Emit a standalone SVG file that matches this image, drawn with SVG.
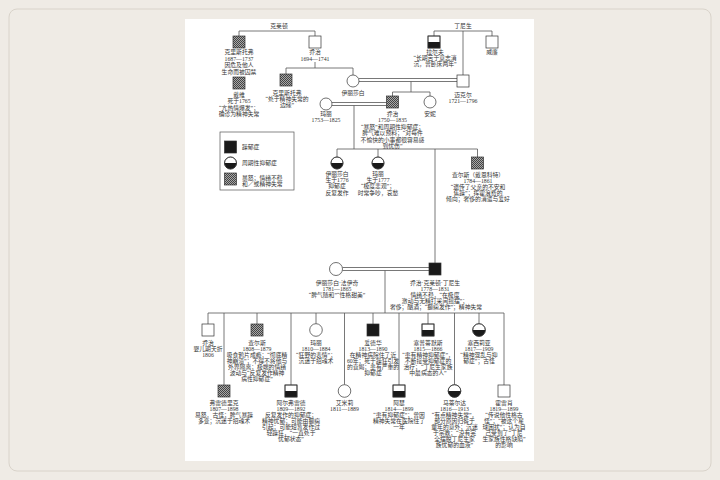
<svg xmlns="http://www.w3.org/2000/svg" width="720" height="480" viewBox="0 0 720 480">
<defs>
<pattern id="hatch" width="2" height="2" patternUnits="userSpaceOnUse">
<rect width="2" height="2" fill="#a8a8a8"/>
<rect width="1" height="1" fill="#444"/>
<rect x="1" y="1" width="1" height="1" fill="#444"/>
</pattern>
<style>
.t{font-family:"Liberation Serif","Noto Sans CJK SC",serif;font-size:5.8px;fill:#333;text-anchor:middle}
.tl{font-family:"Liberation Serif","Noto Sans CJK SC",serif;font-size:5.8px;fill:#333;text-anchor:start}
.ln{stroke:#555;stroke-width:0.8;fill:none}
.nd{stroke:#333;stroke-width:0.7;fill:#fff}
.blk{stroke:#333;stroke-width:0.7;fill:#1a1a1a}
.hat{stroke:#333;stroke-width:0.7;fill:url(#hatch)}
.half{fill:#1a1a1a;stroke:none}
</style>
</defs>
<rect x="0" y="0" width="720" height="480" fill="#efebe5"/>
<rect x="9" y="9" width="702" height="462" rx="8" fill="none" stroke="#d9d3ca" stroke-width="1"/>
<rect x="185" y="19" width="349" height="442" fill="#fff"/>

<g id="connectors">
<path class="ln" d="M239,36 V31 H315 V36"/>
<path class="ln" d="M315,62 V68 M286,74 V68 H353 V75"/>
<path class="ln" d="M434,36 V31 H492 V36 M463,31 V75"/>
<path class="ln" d="M359,78.5 H457 M359,81.5 H457"/>
<path class="ln" d="M411,81.5 V92 M392.5,96 V92 H430 V96"/>
<path class="ln" d="M332,102.5 H386.5 M332,105.5 H386.5"/>
<path class="ln" d="M354,105.5 V149 M337,157 V149 H477.5 V157 M378,149 V157 M435,149 V263"/>
<path class="ln" d="M342.5,267.5 H429 M342.5,270.5 H429"/>
<path class="ln" d="M385,270.5 V313 M208,324 V313 H504 V385"/>
<path class="ln" d="M224,313 V385 M257,313 V324 M291,313 V385 M316,313 V323.7 M344.5,313 V384.7 M373,313 V324 M399,313 V385 M428,313 V324 M454.5,313 V384.7 M479,313 V323.7"/>
</g>

<g id="legend">
<rect x="220" y="132" width="74" height="58" fill="#fff" stroke="#555" stroke-width="0.7"/>
<rect class="blk" x="224.5" y="141" width="12" height="12"/>
<text class="tl" x="242" y="149">躁郁症</text>
<circle class="nd" cx="230.5" cy="163" r="6"/>
<path class="half" d="M224.5,163 A6,6 0 0 0 236.5,163 Z"/>
<circle cx="230.5" cy="163" r="6" fill="none" stroke="#333" stroke-width="0.7"/>
<text class="tl" x="242" y="165">周期性抑郁症</text>
<rect class="hat" x="224.5" y="173" width="12" height="12"/>
<text class="tl" x="242" y="180">暴怒；情绪不稳</text>
<text class="tl" x="242" y="186">和／或精神失常</text>
</g>

<g id="christopher1687">
<rect class="hat" x="233" y="36" width="12" height="12"/>
<text class="t" x="239" y="54">克里斯托弗</text>
<text class="t" x="239" y="60.5">1687—1737</text>
<text class="t" x="239" y="67">因危及他人</text>
<text class="t" x="239" y="73.5">生命而被囚禁</text>
</g>
<text class="t" x="279" y="28">克莱顿</text>
<g id="george1694">
<rect class="nd" x="309" y="36" width="12" height="12"/>
<text class="t" x="315" y="54">乔治</text>
<text class="t" x="315" y="60.5">1694—1741</text>
</g>
<g id="david">
<rect class="hat" x="233" y="77" width="12" height="12"/>
<text class="t" x="239" y="97">戴维</text>
<text class="t" x="239" y="103">死于1765</text>
<text class="t" x="239" y="109.5">“亢热情爆发”；</text>
<text class="t" x="239" y="115.5">确诊为精神失常</text>
</g>
<g id="christopher2">
<rect class="hat" x="280" y="74" width="12" height="12"/>
<text class="t" x="287" y="94.5">克里斯托弗</text>
<text class="t" x="287" y="100.5">“处于精神失常的</text>
<text class="t" x="287" y="106.5">边缘”</text>
</g>
<g id="elizabeth">
<circle class="nd" cx="353" cy="81" r="6"/>
<text class="t" x="353" y="94.5">伊丽莎白</text>
</g>
<text class="t" x="463" y="28">丁尼生</text>
<g id="ralph">
<rect class="nd" x="428" y="36" width="12" height="12"/>
<rect class="half" x="428" y="42" width="12" height="6"/>
<rect x="428" y="36" width="12" height="12" fill="none" stroke="#333" stroke-width="0.7"/>
<text class="t" x="435" y="53.5">拉尔夫</text>
<text class="t" x="435" y="60">“长期苦于意志消</text>
<text class="t" x="435" y="66">沉，曾卧床两年”</text>
</g>
<g id="william">
<rect class="nd" x="486" y="36" width="12" height="12"/>
<text class="t" x="492" y="53.5">威廉</text>
</g>
<g id="michael">
<rect class="nd" x="457" y="75" width="12" height="12"/>
<text class="t" x="463" y="97">迈克尔</text>
<text class="t" x="463" y="103">1721—1796</text>
</g>
<g id="mary1753">
<circle class="nd" cx="326" cy="104" r="6"/>
<text class="t" x="326" y="116">玛丽</text>
<text class="t" x="326" y="122.4">1753—1825</text>
</g>
<g id="george1750">
<rect class="hat" x="386.5" y="96" width="12" height="12"/>
<text class="t" x="392.5" y="116">乔治</text>
<text class="t" x="392.5" y="122.4">1750—1835</text>
<text class="t" x="392.5" y="128.8">“暴怒”和周期性抑郁症；</text>
<text class="t" x="392.5" y="135.2">脾气难以预料；“对每件</text>
<text class="t" x="392.5" y="141.6">不愉快的小事都很容易感</text>
<text class="t" x="392.5" y="147.6">到忧伤”</text>
</g>
<g id="anne">
<circle class="nd" cx="430" cy="102" r="6"/>
<text class="t" x="430" y="116">安妮</text>
</g>

<g id="elizabeth1776">
<circle class="nd" cx="337" cy="163" r="6"/>
<path class="half" d="M331,163 A6,6 0 0 0 343,163 Z"/>
<circle cx="337" cy="163" r="6" fill="none" stroke="#333" stroke-width="0.7"/>
<text class="t" x="337" y="176">伊丽莎白</text>
<text class="t" x="337" y="182">生于1776</text>
<text class="t" x="337" y="188">抑郁症</text>
<text class="t" x="337" y="194.5">反复发作</text>
</g>
<g id="mary1777">
<circle class="nd" cx="378" cy="163" r="6"/>
<path class="half" d="M372,163 A6,6 0 0 0 384,163 Z"/>
<circle cx="378" cy="163" r="6" fill="none" stroke="#333" stroke-width="0.7"/>
<text class="t" x="378" y="176">玛丽</text>
<text class="t" x="378" y="182">生于1777</text>
<text class="t" x="378" y="188">“极度悲观”；</text>
<text class="t" x="378" y="194.5">时常争吵，哀愁</text>
</g>
<g id="charles1784">
<rect class="hat" x="471.5" y="157" width="12" height="12"/>
<text class="t" x="478" y="177">查尔斯（戴恩科特）</text>
<text class="t" x="478" y="182.5">1784—1861</text>
<text class="t" x="478" y="188.5">“遗传了父亲的不安和</text>
<text class="t" x="478" y="194.5">焦躁”；挥霍浪费的</text>
<text class="t" x="478" y="200.5">倾向；奢侈的消遣与爱好</text>
</g>

<g id="elizabethFytche">
<circle class="nd" cx="336" cy="269" r="6.5"/>
<text class="t" x="337" y="285">伊丽莎白·法伊奇</text>
<text class="t" x="337" y="290.5">1781—1865</text>
<text class="t" x="337" y="297">“脾气随和”“性格甜美”</text>
</g>
<g id="georgeClayton">
<rect class="blk" x="429" y="263" width="12" height="12"/>
<text class="t" x="435" y="285">乔治·克莱顿·丁尼生</text>
<text class="t" x="435" y="290.5">1778—1831</text>
<text class="t" x="435" y="296.5">情绪不稳，“在极度</text>
<text class="t" x="435" y="302.5">激动与无精打采间摇摆”；</text>
<text class="t" x="436" y="308.5">奢侈；酗酒；“癫痫发作”；精神失常</text>
</g>

<g id="george1806">
<rect class="nd" x="202" y="324" width="12" height="12"/>
<text class="t" x="208" y="344.5">乔治</text>
<text class="t" x="208" y="350.5">婴儿期夭折</text>
<text class="t" x="208" y="356.5">1806</text>
</g>
<g id="charles1808">
<rect class="hat" x="251" y="324" width="12" height="12"/>
<text class="t" x="257" y="344.5">查尔斯</text>
<text class="t" x="257" y="350.5">1808—1879</text>
<text class="t" x="257" y="356.5">吸食鸦片成瘾；“彻底精</text>
<text class="t" x="257" y="362.5">神崩溃”；不得不将他与</text>
<text class="t" x="257" y="368.5">外界隔离；极端的情绪</text>
<text class="t" x="257" y="374.5">波动与“反复发作精神</text>
<text class="t" x="257" y="380.5">病性抑郁症”</text>
</g>
<g id="mary1810">
<circle class="nd" cx="316" cy="330" r="6.3"/>
<text class="t" x="316" y="344.5">玛丽</text>
<text class="t" x="316" y="350.5">1810—1884</text>
<text class="t" x="316" y="356.5">“狂野的表情”；</text>
<text class="t" x="316" y="362.5">沉迷于招魂术</text>
</g>
<g id="edward">
<rect class="blk" x="367" y="324" width="12" height="12"/>
<text class="t" x="373" y="344.5">爱德华</text>
<text class="t" x="373" y="350.5">1813—1890</text>
<text class="t" x="373" y="356.5">在精神病院住了近</text>
<text class="t" x="373" y="362.5">60年；死于躁狂引发</text>
<text class="t" x="373" y="368.5">的衰竭；患有严重的</text>
<text class="t" x="373" y="374.5">抑郁症</text>
</g>
<g id="septimus">
<rect class="nd" x="422" y="324" width="12" height="12"/>
<rect class="half" x="422" y="330" width="12" height="6"/>
<rect x="422" y="324" width="12" height="12" fill="none" stroke="#333" stroke-width="0.7"/>
<text class="t" x="428" y="344.5">塞普蒂默斯</text>
<text class="t" x="428" y="350.5">1815—1866</text>
<text class="t" x="428" y="356.5">“患有精神抑郁症”，</text>
<text class="t" x="428" y="362.5">不断接受抑郁症的</text>
<text class="t" x="428" y="368.5">治疗；“丁尼生家族</text>
<text class="t" x="428" y="374.5">中最病态的人”</text>
</g>
<g id="cecilia">
<circle class="nd" cx="479" cy="330" r="6.3"/>
<path class="half" d="M472.7,330 A6.3,6.3 0 0 0 485.3,330 Z"/>
<circle cx="479" cy="330" r="6.3" fill="none" stroke="#333" stroke-width="0.7"/>
<text class="t" x="479" y="344.5">塞西莉亚</text>
<text class="t" x="479" y="350.5">1817—1909</text>
<text class="t" x="479" y="356.5">“精神混乱与抑</text>
<text class="t" x="479" y="362.5">郁症”；古怪</text>
</g>

<g id="frederick">
<rect class="hat" x="218" y="385" width="12" height="12"/>
<text class="t" x="224" y="404.5">弗雷德里克</text>
<text class="t" x="224" y="410.5">1807—1898</text>
<text class="t" x="224" y="416.5">易怒，古怪；脾气暴躁</text>
<text class="t" x="224" y="422.5">多变；沉迷于招魂术</text>
</g>
<g id="alfred">
<rect class="nd" x="285" y="385" width="12" height="12"/>
<rect class="half" x="285" y="391" width="12" height="6"/>
<rect x="285" y="385" width="12" height="12" fill="none" stroke="#333" stroke-width="0.7"/>
<text class="t" x="291" y="404.5">阿尔弗雷德</text>
<text class="t" x="291" y="410.5">1809—1892</text>
<text class="t" x="291" y="416.5">反复发作的抑郁症；</text>
<text class="t" x="291" y="422.5">精神忧郁；可能由癫痫</text>
<text class="t" x="291" y="428.5">引起；可能短暂发作过</text>
<text class="t" x="291" y="434.5">轻躁狂，“一直处于</text>
<text class="t" x="291" y="440.5">忧郁状态”</text>
</g>
<g id="emily">
<circle class="nd" cx="344.5" cy="391" r="6.3"/>
<text class="t" x="344.5" y="404.5">艾米莉</text>
<text class="t" x="344.5" y="410.5">1811—1889</text>
</g>
<g id="arthur">
<rect class="nd" x="393" y="385" width="12" height="12"/>
<rect class="half" x="393" y="391" width="12" height="6"/>
<rect x="393" y="385" width="12" height="12" fill="none" stroke="#333" stroke-width="0.7"/>
<text class="t" x="399" y="404.5">阿瑟</text>
<text class="t" x="399" y="410.5">1814—1899</text>
<text class="t" x="399" y="416.5">“患有抑郁症”；曾因</text>
<text class="t" x="399" y="422.5">精神失常在医院住了</text>
<text class="t" x="399" y="428.5">一年</text>
</g>
<g id="matilda">
<circle class="nd" cx="454.5" cy="391" r="6.3"/>
<path class="half" d="M448.2,391 A6.3,6.3 0 0 0 460.8,391 Z"/>
<circle cx="454.5" cy="391" r="6.3" fill="none" stroke="#333" stroke-width="0.7"/>
<text class="t" x="454.5" y="404.5">马蒂尔达</text>
<text class="t" x="454.5" y="410.5">1816—1913</text>
<text class="t" x="454.5" y="416.5">“有点精神失常”，</text>
<text class="t" x="454.5" y="422.5">部分原因归咎于</text>
<text class="t" x="454.5" y="428.5">童年的意外；沉迷</text>
<text class="t" x="454.5" y="434.5">于宗教；“没有完</text>
<text class="t" x="454.5" y="440.5">全摆脱丁尼生家</text>
<text class="t" x="454.5" y="446.5">族忧郁的血液”</text>
</g>
<g id="horatio">
<rect class="nd" x="498" y="385" width="12" height="12"/>
<text class="t" x="504" y="404.5">霍雷肖</text>
<text class="t" x="504" y="410.5">1819—1899</text>
<text class="t" x="504" y="416.5">“传说他性格古</text>
<text class="t" x="504" y="422.5">怪”；“被这个星</text>
<text class="t" x="504" y="428.5">球困扰”；认为自</text>
<text class="t" x="504" y="434.5">己受到了“丁尼</text>
<text class="t" x="504" y="440.5">生家族性格缺陷”</text>
<text class="t" x="504" y="446.5">的影响</text>
</g>
</svg>
